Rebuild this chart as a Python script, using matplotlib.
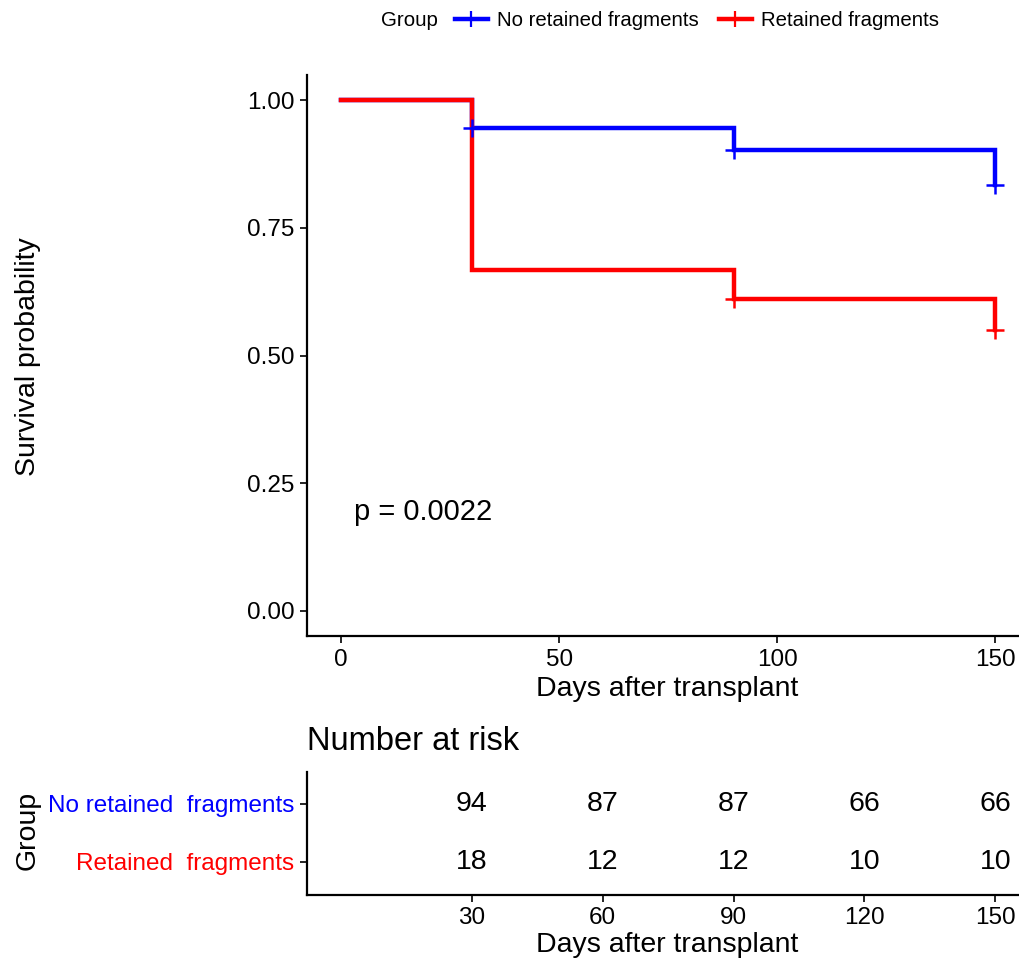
import matplotlib
matplotlib.use("Agg")
import matplotlib.pyplot as plt
from matplotlib.lines import Line2D

plt.rcParams['font.family'] = ['Liberation Sans', 'DejaVu Sans']

groups = ["No retained fragments", "Retained fragments"]
colors = ["#0000FF", "#FF0000"]

# Kaplan-Meier step curves (time, survival)
times = [0, 30, 90, 150]
surv_no = [1.0, 0.946, 0.902, 0.833]
surv_ret = [1.0, 0.667, 0.611, 0.549]
censor_times = [[30, 90, 150], [90, 150]]
censor_surv = [[0.946, 0.902, 0.833], [0.611, 0.549]]

p_text = "p = 0.0022"

risk_times = [30, 60, 90, 120, 150]
risk_no = [94, 87, 87, 66, 66]
risk_ret = [18, 12, 12, 10, 10]
risk_labels = ["No retained  fragments", "Retained  fragments"]

W, H = 1020, 968
fig = plt.figure(figsize=(W / 100, H / 100), dpi=100)

def box(l, t, r, b):
    return [l / W, 1 - b / H, (r - l) / W, (b - t) / H]

xlim = (-7.8, 157.5)

# main survival plot
ax = fig.add_axes(box(307, 75, 1028, 636))
for surv, c in zip([surv_no, surv_ret], colors):
    ax.step(times, surv, where="post", color=c, lw=3.2, solid_joinstyle="miter")
for ct, cs, c in zip(censor_times, censor_surv, colors):
    ax.plot(ct, cs, ls="none", marker="+", color=c, ms=13, mew=1.8)
ax.set_xlim(*xlim)
ax.set_ylim(-0.049, 1.049)
ax.set_xticks([0, 50, 100, 150])
ax.set_yticks([0, 0.25, 0.5, 0.75, 1.0])
ax.set_yticklabels(["0.00", "0.25", "0.50", "0.75", "1.00"])
ax.set_xlabel("Days after transplant", fontsize=20.5, labelpad=4)
ax.text(3, 0.194, p_text, fontsize=21, ha="left", va="center")

# risk table
tax = fig.add_axes(box(307, 772, 1028, 895))
for row_y, counts in zip([2, 1], [risk_no, risk_ret]):
    for t, n in zip(risk_times, counts):
        tax.text(t, row_y, str(n), fontsize=20.5, ha="center", va="center")
tax.set_xlim(*xlim)
tax.set_ylim(0.43, 2.55)
tax.set_xticks(risk_times)
tax.set_yticks([2, 1])
tax.set_yticklabels(risk_labels, fontsize=17.5)
for lab, c in zip(tax.get_yticklabels(), colors):
    lab.set_color(c)
tax.set_xlabel("Days after transplant", fontsize=20.5, labelpad=2)

for a in [ax, tax]:
    for s in ["top", "right"]:
        a.spines[s].set_visible(False)
    for s in ["left", "bottom"]:
        a.spines[s].set_linewidth(1.6)
    a.tick_params(labelsize=17.5, width=1.2, length=5, pad=4)

fig.text(28 / W, 1 - 357 / H, "Survival probability", rotation=90,
         fontsize=20.5, ha="center", va="center")
fig.text(28 / W, 1 - 830 / H, "Group", rotation=90,
         fontsize=20.5, ha="center", va="center")
fig.text(307 / W, 1 - 742 / H, "Number at risk", fontsize=23.5,
         ha="left", va="center")

# legend on top
fig.text(438 / W, 1 - 21 / H, "Group", fontsize=14.8, ha="right", va="center")
handles = [Line2D([], [], color=c, lw=3.2, marker="+", ms=11, mew=1.6) for c in colors]
fig.legend(handles, groups, ncol=2, loc="center left",
           bbox_to_anchor=(455 / W, 1 - 21 / H), frameon=False, fontsize=14.7,
           handlelength=1.6, handletextpad=0.45, columnspacing=1.0,
           borderpad=0, borderaxespad=0)

fig.savefig("out.png", dpi=100)
